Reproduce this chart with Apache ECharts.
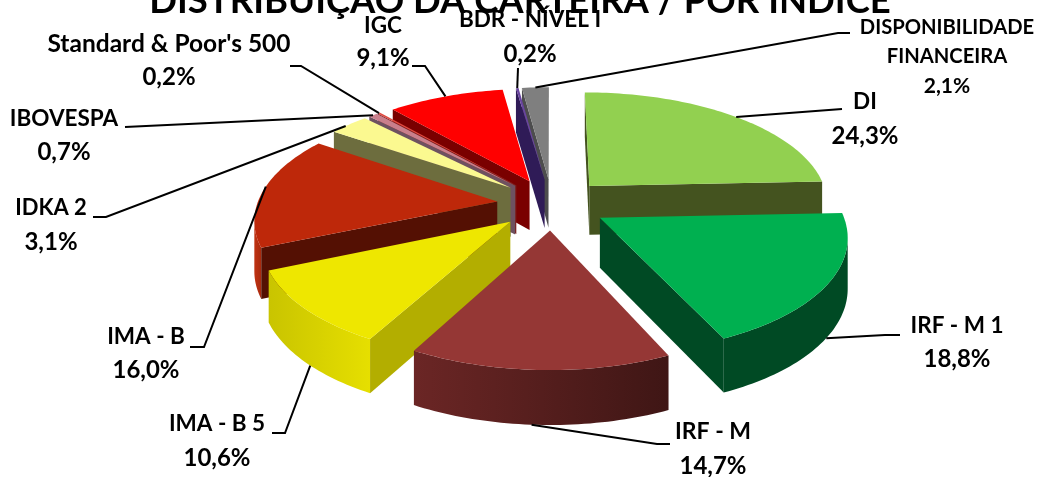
<!DOCTYPE html>
<html><head><meta charset="utf-8">
<style>html,body{margin:0;padding:0;background:#fff}#c{width:1037px;height:477px}</style>
<script src="https://cdn.jsdelivr.net/npm/echarts@6/dist/echarts.min.js"></script>
</head><body><div id="c"></div>
<script>
var titleText = 'DISTRIBUIÇÃO DA CARTEIRA / POR ÍNDICE';
var categories = ['DI','IRF - M 1','IRF - M','IMA - B 5','IMA - B','IDKA 2','IBOVESPA',"Standard & Poor's 500",'IGC','BDR - NÍVEL I','DISPONIBILIDADE\nFINANCEIRA'];
var values = [24.3,18.8,14.7,10.6,16.0,3.1,0.7,0.2,9.1,0.2,2.1];

var topColors = ['#92D050','#00B050','#953735','#EEE700','#BE280A','#FBF990','#C97F8C','#E04A40','#FF0000','#6A45A0','#7F7F7F'];
var sideColors = ['#44531F','#004A24','#5A1F1E','#B3AE00','#541003','#6D6D3E','#6E5160','#7A2020','#7A0000','#2F1B57','#4D4D4D'];
var rimColors = [['#44531F','#44531F'],['#004A24','#004A24'],['#6B2625','#3F1615'],['#C9C400','#E6DF00'],['#C03212','#A82A0E'],['#6D6D3E','#6D6D3E'],['#6E5160','#6E5160'],['#7A2020','#7A2020'],['#7A0000','#7A0000'],['#2F1B57','#2F1B57'],['#A0A0A0','#A0A0A0']];

// projection of the tilted, exploded pie
var P = {cx:552, cy:204, R:240, A:111.5, k:0.1416, explode:0.23, depth:49.5, depthK:0.09};
// text placement: [centre x, first-line y, line pitch, name size, value size]
var labelPos = [[865,102,34,22.5,24],[957,326,33,22.5,24],[713,432,34,23,24],[217,424,34,22.5,24],[146,337,33,22.5,24],[51,208,34,22,24],[64,119,33,22.5,24],[169,44,33,24.5,24],[383,26,32,22.5,24],[530,20,34,22.5,24],[947,27,29.5,20.2,21]];
// leader lines: where on the slice rim (fraction, lower edge?) and the elbow points toward the label
var leaders = [
  [0.51,0,[[842,109]]],
  [0.52,1,[[885,335],[900,335]]],
  [0.53,1,[[657,444],[670,444]]],
  [0.45,1,[[285,433],[272,433]]],
  [0.54,0,[[204,347],[190,347]]],
  [0.40,0,[[106,217],[93,217]]],
  [0.50,0,[[125,127]]],
  [0.50,0,[[301,66],[290,66]]],
  [0.50,0,[[425,66],[412,66]]],
  [0.50,0,[[518,68]]],
  [0.50,0,[[838,33],[850,33]]]
];

var total = values.reduce(function(a,b){return a+b;},0);
var starts = [], acc = 0;
values.forEach(function(v){starts.push(acc/total*Math.PI*2); acc+=v;});

function project(u,v){ // v>0 = toward the viewer
  var s = 1/(1-P.k*v);
  return [P.cx+P.R*u*s, P.cy+P.A*v*s, P.depth*(1+P.depthK*v)];
}
function sliceGeom(i){
  var a0=starts[i], a1=a0+values[i]/total*Math.PI*2, mid=(a0+a1)/2;
  var eu=P.explode*Math.sin(mid), ev=-P.explode*Math.cos(mid);
  return {a0:a0,a1:a1,mid:mid,
    apex:project(eu,ev),
    rim:function(t){var a=a0+(a1-a0)*t;return project(eu+Math.sin(a),ev-Math.cos(a));}};
}
var drawRank = values.map(function(_,i){return i;}).sort(function(a,b){
  return Math.cos(sliceGeom(b).mid)-Math.cos(sliceGeom(a).mid);
});

function quad(p,q){return [[p[0],p[1]],[q[0],q[1]],[q[0],q[1]+q[2]],[p[0],p[1]+p[2]]];}

function renderSlice(params,api){
  var i=params.dataIndex, g=sliceGeom(i), rank=drawRank.indexOf(i)*10;
  var n=Math.max(2,Math.ceil(api.value(0)*3)), top=[g.apex], children=[], t, upper=[];
  for(t=0;t<=n;t++){top.push(g.rim(t/n));}
  for(t=0;t<n;t++){
    var p=g.rim(t/n), q=g.rim((t+1)/n);
    if(q[0]<p[0]){upper.push(p,q);}
  }
  if(upper.length){
    var poly=[], bot=[];
    upper.forEach(function(p,j){ if(j%2===0||j===upper.length-1){poly.push([p[0],p[1]]);bot.unshift([p[0],p[1]+p[2]]);} });
    children.push({type:'polygon',z2:rank+1,shape:{points:poly.concat(bot)},style:{fill:{
      type:'linear',x:0,y:0,x2:1,y2:0,colorStops:[{offset:0,color:rimColors[i][0]},{offset:1,color:rimColors[i][1]}]}}});
  }
  var s0=g.rim(0), s1=g.rim(1);
  if(s0[0]<g.apex[0]){children.push({type:'polygon',z2:rank+2,shape:{points:quad(g.apex,s0)},style:{fill:sideColors[i]}});}
  if(g.apex[0]<s1[0]){children.push({type:'polygon',z2:rank+2,shape:{points:quad(s1,g.apex)},style:{fill:sideColors[i]}});}
  children.push({type:'polygon',z2:rank+5,shape:{points:top.map(function(p){return [p[0],p[1]];})},style:{fill:topColors[i]}});
  return {type:'group',children:children};
}

function pct(v){return v.toFixed(1).replace('.',',')+'%';}
var graphics=[{type:'text',x:520,y:1,z:30,style:{text:titleText,fill:'#000',font:'bold 36.5px Lato',align:'center',verticalAlign:'middle'}}];
categories.forEach(function(c,i){
  var names=c.split('\n'), lp=labelPos[i];
  names.concat(pct(values[i])).forEach(function(l,j){
    var size=j<names.length?lp[3]:lp[4];
    graphics.push({type:'text',x:lp[0],y:lp[1]+j*lp[2],z:31,style:{text:l,fill:'#000',font:'bold '+size+'px Lato',align:'center',verticalAlign:'middle'}});
  });
  var ld=leaders[i], r=sliceGeom(i).rim(ld[0]);
  var start=[r[0],r[1]+(ld[1]?r[2]:0)];
  graphics.push({type:'polyline',z:29,shape:{points:[start].concat(ld[2])},style:{stroke:'#000',lineWidth:2,fill:null}});
});

var chart=echarts.init(document.getElementById('c'),null,{renderer:'canvas'});
chart.setOption({
  animation:false,
  backgroundColor:'#fff',
  graphic:graphics,
  series:[{type:'custom',coordinateSystem:'none',silent:true,clip:false,renderItem:renderSlice,
    data:values.map(function(v,i){return {name:categories[i],value:[v]};})}]
});
</script></body></html>
